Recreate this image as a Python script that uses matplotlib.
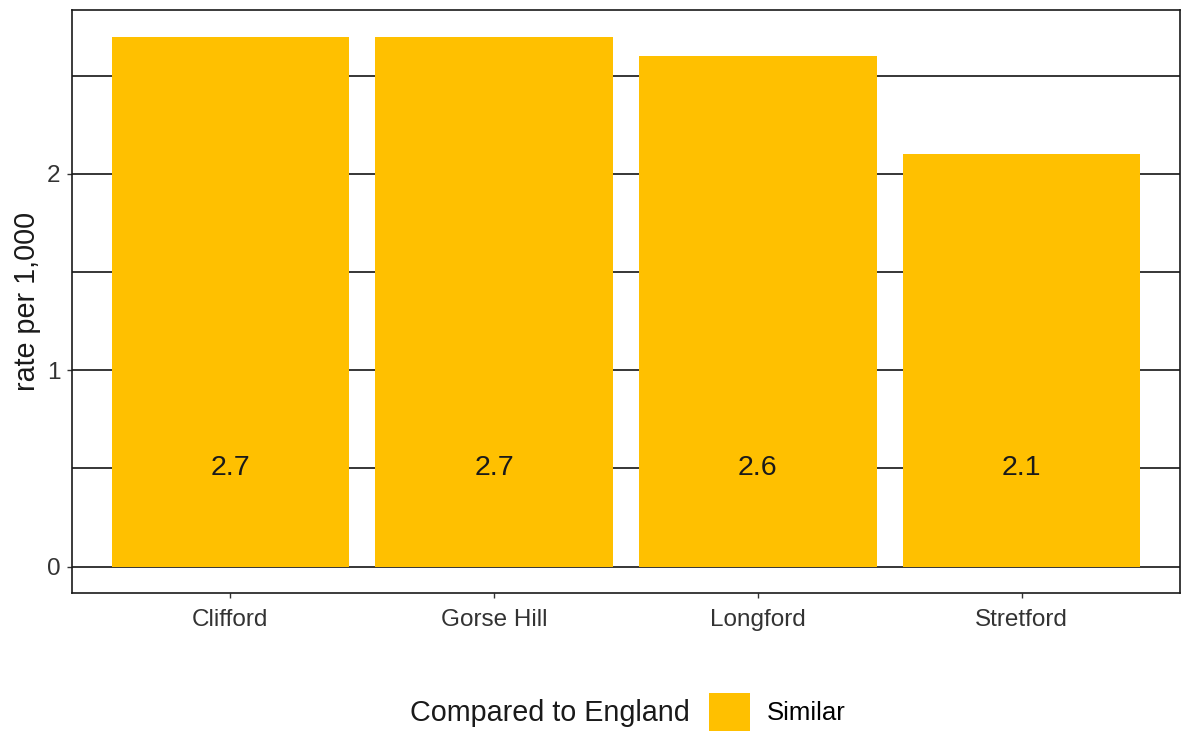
import matplotlib
matplotlib.use('Agg')
import matplotlib.pyplot as plt
from matplotlib.patches import Patch

plt.rcParams['font.family'] = ['Liberation Sans', 'DejaVu Sans']

wards = ['Clifford', 'Gorse Hill', 'Longford', 'Stretford']
rates = [2.7, 2.7, 2.6, 2.1]
label_y = 0.5
bar_col = '#FFC000'

W, H = 1181, 731
fig = plt.figure(figsize=(W/100, H/100), dpi=100)
ax = fig.add_axes([72/W, (H-593)/H, (1180-72)/W, (593-10)/H])

x = list(range(1, len(wards)+1))
ax.bar(x, rates, width=0.9, color=bar_col, zorder=2)
for xi, r in zip(x, rates):
    ax.text(xi, label_y, f'{r:.1f}', ha='center', va='center', fontsize=20.5, color='#1a1a1a', zorder=3)

ax.set_xlim(0.4, 4.6)
ax.set_ylim(-0.135, 2.835)
ax.set_yticks([0, 1, 2])
ax.set_yticks([0.5, 1.5, 2.5], minor=True)
ax.set_axisbelow(True)
ax.grid(axis='y', which='both', color='black', linewidth=1.1, zorder=0)
ax.set_xticks(x)
ax.set_xticklabels(wards)
ax.tick_params(axis='both', which='major', length=3.5, width=1, color='#333333', labelsize=17.5, labelcolor='#333333', pad=5)
ax.tick_params(axis='x', which='major', pad=8)
ax.tick_params(axis='y', which='minor', length=0)
ax.set_ylabel('rate per 1,000', fontsize=20.7, color='#1a1a1a', labelpad=4)
for s in ax.spines.values():
    s.set_linewidth(1.2)
    s.set_color('#1a1a1a')

fig.text(410/W, (H-713)/H, 'Compared to England', fontsize=20.7, va='center', ha='left', color='#1a1a1a')
fig.legend(handles=[Patch(facecolor=bar_col)], labels=['Similar'], loc='center left',
           bbox_to_anchor=(709/W, (H-712)/H), frameon=False, fontsize=18.5,
           handlelength=1.6, handleheight=1.95, handletextpad=0.65, borderpad=0, borderaxespad=0)

fig.savefig('out.png', dpi=100)
